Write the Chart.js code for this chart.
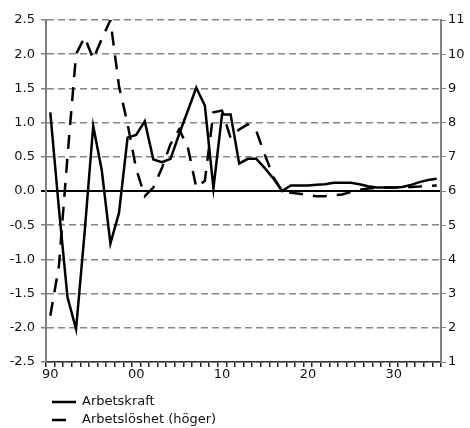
<!DOCTYPE html>
<html lang="sv">
<head>
<meta charset="utf-8">
<title>Arbetskraft och arbetslöshet</title>
<script src="https://cdn.jsdelivr.net/npm/chart.js@4/dist/chart.umd.min.js"></script>
<style>
  html, body { margin: 0; padding: 0; background: #fff; }
  #wrap { width: 470px; height: 428px; }
</style>
</head>
<body>
<div id="wrap"><canvas id="chart" width="470" height="428"></canvas></div>
<script>
// Years on the horizontal axis
const years = [
  1990, 1991, 1992, 1993, 1994, 1995, 1996, 1997, 1998, 1999,
  2000, 2001, 2002, 2003, 2004, 2005, 2006, 2007, 2008, 2009,
  2010, 2011, 2012, 2013, 2014, 2015, 2016, 2017, 2018, 2019,
  2020, 2021, 2022, 2023, 2024, 2025, 2026, 2027, 2028, 2029,
  2030, 2031, 2032, 2033, 2034, 2035
];

// Decade labels shown under the axis
const decadeLabels = ['90', '00', '10', '20', '30'];

// Arbetskraft, left axis
const arbetskraft = [
  1.15, -0.25, -1.55, -2.02, -0.60, 0.95, 0.30, -0.77, -0.32, 0.78,
  0.82, 1.02, 0.46, 0.42, 0.47, 0.83, 1.17, 1.51, 1.25, 0.04,
  1.12, 1.12, 0.40, 0.47, 0.47, 0.33, 0.18, 0.00, 0.08, 0.08,
  0.08, 0.09, 0.10, 0.12, 0.12, 0.12, 0.10, 0.07, 0.05, 0.05,
  0.05, 0.06, 0.09, 0.13, 0.16, 0.18
];

// Arbetslöshet, right axis
const arbetsloshet = [
  2.35, 3.80, 7.00, 10.00, 10.50, 9.86, 10.45, 11.00, 9.07, 7.96,
  6.65, 5.85, 6.10, 6.67, 7.37, 7.80, 7.30, 6.10, 6.30, 8.30,
  8.35, 7.55, 7.80, 7.95, 7.75, 7.05, 6.40, 6.00, 5.95, 5.92,
  5.88, 5.85, 5.85, 5.87, 5.90, 5.97, 6.03, 6.07, 6.09, 6.10,
  6.10, 6.11, 6.12, 6.13, 6.15, 6.16
];

const seriesNames = ['Arbetskraft', 'Arbetslöshet (höger)'];

const FONT = '"DejaVu Sans", Verdana, sans-serif';
Chart.defaults.font.family = FONT;
Chart.defaults.font.size = 13;
Chart.defaults.color = '#111';

// Two-row legend under the plot, drawn on the chart canvas
const stackedLegend = {
  id: 'stackedLegend',
  afterDraw(chart) {
    const ctx = chart.ctx;
    const rowsY = [402, 420];
    ctx.save();
    chart.data.datasets.forEach((ds, i) => {
      const y = rowsY[i];
      ctx.beginPath();
      ctx.lineWidth = ds.borderWidth;
      ctx.strokeStyle = ds.borderColor;
      ctx.setLineDash(ds.borderDash || []);
      ctx.lineCap = 'butt';
      ctx.moveTo(52, y);
      ctx.lineTo(76, y);
      ctx.stroke();
      ctx.setLineDash([]);
      ctx.fillStyle = '#111';
      ctx.font = '13px ' + FONT;
      ctx.textBaseline = 'middle';
      ctx.textAlign = 'left';
      ctx.fillText(ds.label, 82, y);
    });
    ctx.restore();
  }
};

new Chart(document.getElementById('chart'), {
  type: 'line',
  data: {
    labels: years,
    datasets: [
      {
        label: seriesNames[0],
        data: arbetskraft,
        yAxisID: 'y',
        borderColor: '#000',
        borderWidth: 2.5,
        pointRadius: 0,
        tension: 0,
        fill: false
      },
      {
        label: seriesNames[1],
        data: arbetsloshet,
        yAxisID: 'y1',
        borderColor: '#000',
        borderWidth: 2.5,
        borderDash: [14, 10],
        pointRadius: 0,
        tension: 0,
        fill: false
      }
    ]
  },
  options: {
    responsive: false,
    animation: false,
    devicePixelRatio: 1,
    layout: { padding: { top: 20, bottom: 46, left: 0, right: 0 } },
    plugins: {
      legend: { display: false },
      tooltip: { enabled: false }
    },
    scales: {
      x: {
        type: 'category',
        offset: true,
        afterFit: s => { s.height = 20; },
        grid: {
          offset: true,
          drawOnChartArea: false,
          drawTicks: true,
          tickLength: 5,
          tickColor: '#222',
          tickWidth: 1.5,
          lineWidth: 1.5,
          color: '#222'
        },
        border: { color: '#333', width: 1.5 },
        ticks: {
          autoSkip: false,
          maxRotation: 0,
          minRotation: 0,
          padding: 0,
          callback: (value, index) => (index % 10 === 0 ? decadeLabels[index / 10] : '')
        }
      },
      y: {
        position: 'left',
        min: -2.5,
        max: 2.5,
        afterFit: s => { s.width = 46; },
        ticks: {
          stepSize: 0.5,
          padding: 6,
          callback: v => v.toFixed(1)
        },
        grid: {
          drawTicks: true,
          tickLength: 5,
          lineWidth: c => (c.tick && c.tick.value === 0 ? 2 : 1.5),
          color: c => (c.tick && c.tick.value === 0 ? '#000' : '#858585'),
          tickColor: c => (c.tick && c.tick.value === 0 ? '#000' : '#808080'),
          tickBorderDash: []
        },
        border: {
          color: '#808080',
          width: 2,
          dash: c => (c.tick && c.tick.value === 0 ? [] : [7, 4])
        }
      },
      y1: {
        position: 'right',
        min: 1,
        max: 11,
        afterFit: s => { s.width = 29; },
        ticks: { stepSize: 1, padding: 2 },
        grid: {
          drawOnChartArea: false,
          drawTicks: true,
          tickLength: 5,
          tickColor: '#808080'
        },
        border: { color: '#808080', width: 2 }
      }
    }
  },
  plugins: [stackedLegend]
});
</script>
</body>
</html>
